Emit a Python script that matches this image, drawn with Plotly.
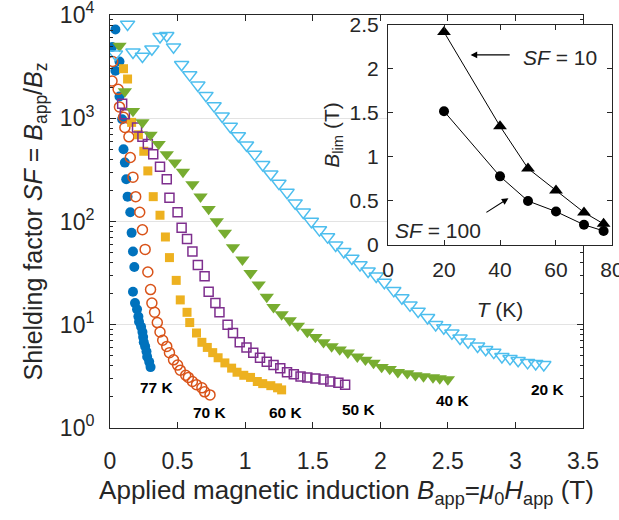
import plotly.graph_objects as go

# ---------------- main panel data (B_app in T, shielding factor SF) ----------------
B77 = [0.04, 0.015, 0.07, 0.04, 0.07, 0.09, 0.10, 0.11, 0.12, 0.13, 0.15, 0.16, 0.17, 0.18,
       0.17, 0.185, 0.20, 0.21, 0.215, 0.23, 0.24, 0.245, 0.25, 0.26, 0.27, 0.275, 0.29, 0.30]
SF77 = [7244, 4898, 3548, 2884, 1622, 977, 501, 372, 257, 174, 123, 77.6, 51.3, 36.3,
        20.9, 16.2, 14.1, 12.0, 10.7, 9.55, 8.51, 7.59, 6.76, 6.17, 5.50, 4.90, 4.37, 3.89]

B70 = [0.02, 0.015, 0.06, 0.07, 0.10, 0.11, 0.14, 0.15, 0.17, 0.19, 0.22, 0.24, 0.26, 0.28,
       0.30, 0.31, 0.33, 0.35, 0.37, 0.39, 0.42, 0.44, 0.47, 0.50, 0.52, 0.56, 0.58, 0.61,
       0.64, 0.68, 0.70, 0.74]
SF70 = [3548, 2291, 1905, 1288, 1023, 813, 661, 417, 269, 174, 123, 83.2, 53.7, 32.4,
        21.9, 16.2, 13.2, 10.5, 8.51, 7.08, 6.17, 5.37, 4.57, 4.07, 3.63, 3.24, 3.09, 2.82,
        2.63, 2.45, 2.24, 2.09]

B60 = [0.10, 0.13, 0.16, 0.21, 0.25, 0.28, 0.32, 0.37, 0.41, 0.44, 0.49, 0.52, 0.57, 0.59,
       0.64, 0.68, 0.72, 0.76, 0.80, 0.85, 0.90, 0.94, 0.99, 1.04, 1.09, 1.13, 1.19, 1.24, 1.27]
SF60 = [3020, 2399, 912, 692, 479, 309, 174, 115, 70.8, 44.7, 26.9, 17.4, 13.2, 10.5,
        8.32, 6.76, 6.03, 5.37, 4.79, 4.27, 3.80, 3.47, 3.24, 3.09, 2.82, 2.69, 2.57, 2.45, 2.34]

B50 = [0.09, 0.11, 0.20, 0.24, 0.28, 0.32, 0.37, 0.42, 0.44, 0.50, 0.53, 0.57, 0.61, 0.65,
       0.70, 0.73, 0.78, 0.81, 0.87, 0.91, 0.96, 1.01, 1.06, 1.11, 1.16, 1.21, 1.26, 1.31,
       1.36, 1.41, 1.46, 1.52, 1.58, 1.63, 1.69, 1.74]
SF50 = [1380, 1096, 813, 661, 562, 447, 339, 257, 170, 123, 87.1, 67.6, 51.3, 38.0,
        29.5, 20.9, 16.2, 13.2, 10.0, 8.32, 6.76, 6.03, 5.37, 4.79, 4.37, 4.07, 3.80, 3.47,
        3.31, 3.16, 3.09, 3.02, 2.95, 2.82, 2.75, 2.63]

B40 = [0.07, 0.11, 0.17, 0.24, 0.30, 0.36, 0.42, 0.48, 0.54, 0.61, 0.67, 0.73, 0.79, 0.85,
       0.91, 0.98, 1.04, 1.10, 1.16, 1.21, 1.27, 1.33, 1.39, 1.46, 1.52, 1.58, 1.64, 1.70,
       1.76, 1.83, 1.89, 1.95, 2.01, 2.07, 2.13, 2.20, 2.26, 2.32, 2.39, 2.44, 2.50]
SF40 = [5012, 1820, 1175, 912, 692, 562, 447, 372, 302, 229, 174, 132, 100, 77.6,
        56.2, 42.7, 31.6, 24.5, 18.6, 14.8, 12.6, 11.0, 9.77, 8.51, 7.59, 6.76, 6.17, 5.75,
        5.37, 4.90, 4.57, 4.27, 3.89, 3.72, 3.47, 3.39, 3.24, 3.16, 3.09, 3.02, 2.95]

B20 = [0.04, 0.13, 0.17, 0.24, 0.31, 0.37, 0.42, 0.47,
       0.53, 0.59, 0.65, 0.71, 0.77, 0.83, 0.89, 0.95, 1.01, 1.07, 1.13, 1.19, 1.25, 1.31,
       1.37, 1.43, 1.49, 1.55, 1.61, 1.67, 1.73, 1.79, 1.85, 1.91, 1.97, 2.03, 2.10, 2.16,
       2.22, 2.28, 2.35, 2.41, 2.47, 2.53, 2.59, 2.65, 2.72, 2.78, 2.84, 2.90, 2.96, 3.02,
       3.09, 3.15, 3.21]
SF20 = [4169, 8128, 4365, 3981, 4677, 6166, 6310, 4898,
        3311, 2630, 2089, 1660, 1318, 1047, 832, 676, 550, 447, 355, 288, 234, 191,
        151, 123, 100, 83, 71, 59, 51, 44, 38, 33, 29.5, 25.7, 21.4, 18.2,
        15.5, 13.5, 11.7, 10.0, 9.3, 8.3, 7.4, 6.8, 6.2, 5.75, 5.4, 4.9, 4.7, 4.5,
        4.3, 4.2, 4.1]

# temperature labels: (text, B position, log10 SF position)
temp_labels = ["77 K", "70 K", "60 K", "50 K", "40 K", "20 K"]
temp_lab_B = [0.35, 0.74, 1.30, 1.84, 2.54, 3.24]
temp_lab_logSF = [0.39, 0.15, 0.15, 0.18, 0.27, 0.37]

y_tickvals = [1, 10, 100, 1000, 10000]
y_ticktext = ["10<sup>0</sup>", "10<sup>1</sup>", "10<sup>2</sup>", "10<sup>3</sup>", "10<sup>4</sup>"]
y_minor = [m * 10 ** e for e in range(4) for m in range(2, 10)]
x_tickvals = [0, 0.5, 1, 1.5, 2, 2.5, 3, 3.5]
x_ticktext = ["0", "0.5", "1", "1.5", "2", "2.5", "3", "3.5"]

# ---------------- inset data ----------------
T_inset = [20, 40, 50, 60, 70, 77]
Blim_SF10 = [2.42, 1.35, 0.87, 0.62, 0.37, 0.24]
Blim_SF100 = [1.52, 0.78, 0.50, 0.38, 0.23, 0.16]

FONT = "Liberation Sans, Arial, sans-serif"
TXT = "#262626"
AX = "#262626"

fig = go.Figure()

series = [
    (B77, SF77, "circle", 10, "#0072BD", True),
    (B70, SF70, "circle-open", 10, "#D95319", False),
    (B60, SF60, "square", 9, "#EDB120", True),
    (B50, SF50, "square-open", 9, "#7E2F8E", False),
    (B40, SF40, "triangle-down", 12.5, "#77AC30", True),
    (B20, SF20, "triangle-down-open", 12.5, "#4DBEEE", False),
]
for bx, sf, sym, sz, col, filled in series:
    fig.add_trace(go.Scatter(
        x=bx, y=sf, mode="markers", xaxis="x", yaxis="y",
        marker=dict(symbol=sym, size=sz, color=col,
                    line=dict(color=col, width=1.5 if not filled else 0)),
        showlegend=False, hoverinfo="skip"))

fig.add_trace(go.Scatter(
    x=T_inset, y=Blim_SF10, mode="lines+markers", xaxis="x2", yaxis="y2",
    line=dict(color="black", width=1),
    marker=dict(symbol="triangle-up", size=12, color="black"), showlegend=False))
fig.add_trace(go.Scatter(
    x=T_inset, y=Blim_SF100, mode="lines+markers", xaxis="x2", yaxis="y2",
    line=dict(color="black", width=1),
    marker=dict(symbol="circle", size=10, color="black"), showlegend=False))

annotations = []
for t, bx, ly in zip(temp_labels, temp_lab_B, temp_lab_logSF):
    annotations.append(dict(x=bx, y=ly, xref="x", yref="y", text="<b>%s</b>" % t,
                            showarrow=False, font=dict(size=15.5, color="black", family=FONT)))

# inset annotations
annotations.append(dict(x=61.5, y=2.13, xref="x2", yref="y2", text="<i>SF</i> = 10",
                        showarrow=False, font=dict(size=21, color=TXT, family=FONT)))
annotations.append(dict(x=29.5, y=2.16, xref="x2", yref="y2", ax=44, ay=2.16,
                        axref="x2", ayref="y2", text="", showarrow=True,
                        arrowhead=2, arrowsize=1.2, arrowwidth=1.1, arrowcolor="black"))
annotations.append(dict(x=18, y=0.17, xref="x2", yref="y2", text="<i>SF</i> = 100",
                        showarrow=False, font=dict(size=21, color=TXT, family=FONT)))
annotations.append(dict(x=43, y=0.53, xref="x2", yref="y2", ax=34.6, ay=0.36,
                        axref="x2", ayref="y2", text="", showarrow=True,
                        arrowhead=2, arrowsize=1.2, arrowwidth=1.1, arrowcolor="black"))

common = dict(showline=True, linecolor=AX, linewidth=1, mirror="ticks", ticks="inside",
              tickcolor=AX, zeroline=False, automargin=True, ticklabeloverflow="allow")

fig.update_layout(
    template="none",
    width=619, height=520,
    margin=dict(l=110, r=7, t=15, b=92, autoexpand=False),
    paper_bgcolor="white", plot_bgcolor="white",
    font=dict(family=FONT, color=TXT, size=20),
    annotations=annotations,
    xaxis=dict(
        common, domain=[0, 0.9422], range=[0, 3.5], tickmode="array",
        tickvals=x_tickvals, ticktext=x_ticktext, ticklen=6, showgrid=False,
        tickfont=dict(size=23, color=TXT), ticklabelstandoff=12,
        title=dict(text="Applied magnetic induction <i>B</i><sub>app</sub>=<i>\u03bc</i><sub>0</sub><i>H</i><sub>app</sub> (T)",
                   font=dict(size=26, color=TXT), standoff=8),
    ),
    yaxis=dict(
        common, type="log", range=[0, 4], tickmode="array",
        tickvals=y_tickvals, ticktext=y_ticktext, ticklen=6,
        showgrid=True, gridcolor="#e3e3e3", gridwidth=1,
        minor=dict(tickmode="array", tickvals=y_minor, ticks="inside", ticklen=3,
                   tickcolor=AX, showgrid=False),
        tickfont=dict(size=23, color=TXT), ticklabelstandoff=10,
        title=dict(text="Shielding factor <i>SF</i> = <i>B</i><sub>app</sub>/<i>B</i><sub>z</sub>",
                   font=dict(size=25, color=TXT), standoff=10),
    ),
    xaxis2=dict(
        common, domain=[0.5538, 1.0], anchor="y2", range=[0, 80],
        tickvals=[0, 20, 40, 60, 80], ticklen=5, showgrid=False,
        tickfont=dict(size=21, color=TXT), ticklabelstandoff=6,
        title=dict(text="<i>T</i> (K)", font=dict(size=21, color=TXT), standoff=22),
    ),
    yaxis2=dict(
        common, domain=[0.4431, 0.9758], anchor="x2", range=[0, 2.5],
        tickvals=[0, 0.5, 1, 1.5, 2, 2.5], ticktext=["0", "0.5", "1", "1.5", "2", "2.5"],
        ticklen=5, showgrid=False,
        tickfont=dict(size=21, color=TXT), ticklabelstandoff=4,
        title=dict(text="<i>B</i><sub>lim</sub> (T)", font=dict(size=21, color=TXT), standoff=4),
    ),
)

fig.write_html("out.html")
